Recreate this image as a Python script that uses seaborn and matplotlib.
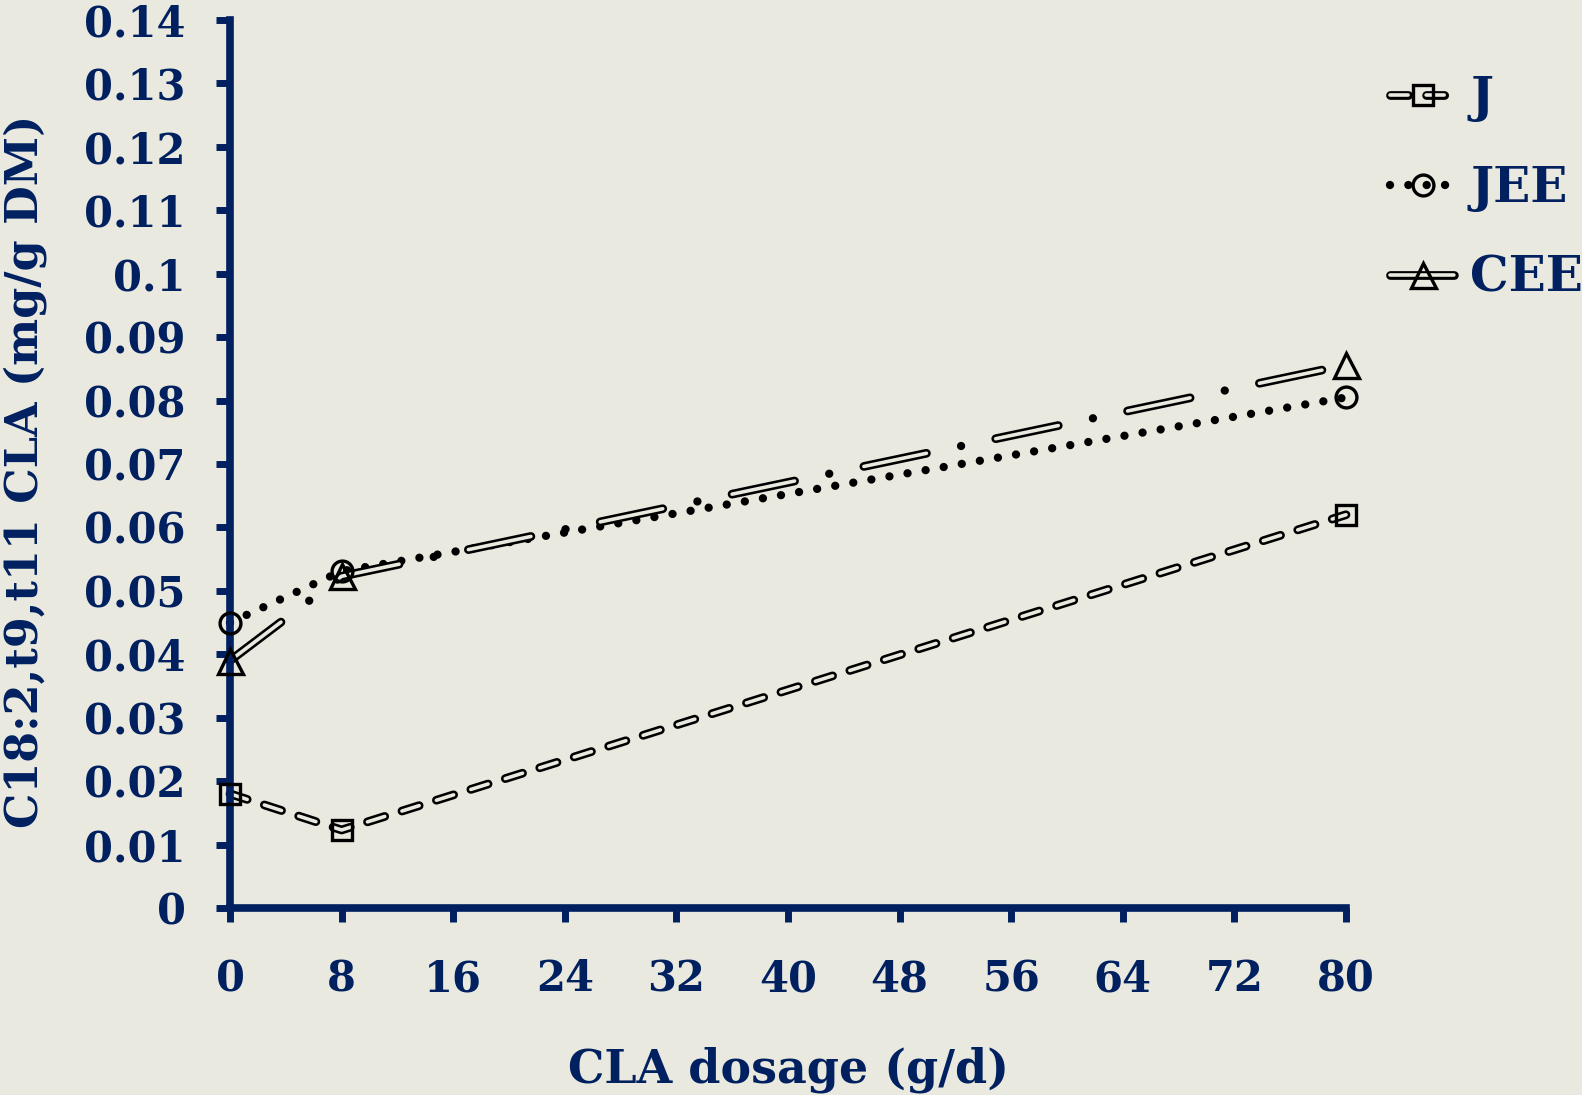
import numpy as np
import pandas as pd
import seaborn as sns
import matplotlib
matplotlib.use("Agg")
import matplotlib.pyplot as plt
import matplotlib.patheffects as pe
from matplotlib.legend_handler import HandlerTuple

# CLA dosage (g/d) and C18:2,t9,t11 CLA content (mg/g DM)
dosage = [0, 8, 80]
j_vals = [0.018, 0.0123, 0.062]
jee_vals = [0.045, 0.0531, 0.0805]
cee_vals = [0.039, 0.0523, 0.0856]
series_names = ["J", "JEE", "CEE"]

x_ticks = [0, 8, 16, 24, 32, 40, 48, 56, 64, 72, 80]
y_ticks = [0, 0.01, 0.02, 0.03, 0.04, 0.05, 0.06, 0.07, 0.08, 0.09, 0.10,
           0.11, 0.12, 0.13, 0.14]
y_tick_labels = ["0", "0.01", "0.02", "0.03", "0.04", "0.05", "0.06", "0.07",
                 "0.08", "0.09", "0.1", "0.11", "0.12", "0.13", "0.14"]

BG = "#E9E9DF"
NAVY = "#002060"
FS = 30

sns.set_theme(style="white")
plt.rcParams["font.family"] = ["DejaVu Serif"]
plt.rcParams["font.weight"] = "bold"
plt.rcParams["lines.scale_dashes"] = False

fig = plt.figure(figsize=(15.82, 10.95), dpi=100, facecolor=BG)
ax = fig.add_axes([230 / 1582, 1 - 908 / 1095, 1116 / 1582, 888 / 1095])
ax.set_facecolor(BG)

df = pd.DataFrame({"dosage": dosage, "J": j_vals, "JEE": jee_vals, "CEE": cee_vals})

hollow = [pe.Stroke(linewidth=6.3, foreground="black"), pe.Normal()]

# J: hollow short dashes
sns.lineplot(data=df, x="dosage", y="J", ax=ax, color=BG, linewidth=2.6,
             linestyle=(0, (13, 13)), dash_capstyle="round", clip_on=False)
line_j = ax.lines[-1]
line_j.set_path_effects(hollow)

# JEE: round black dots
sns.lineplot(data=df, x="dosage", y="JEE", ax=ax, color="black", linewidth=6,
             linestyle=(0, (0.01, 13.2)), dash_capstyle="round", clip_on=False)
line_jee = ax.lines[-1]

# CEE: hollow long dashes with a dot between them
sns.lineplot(data=df, x="dosage", y="CEE", ax=ax, color=BG, linewidth=2.6,
             linestyle=(0, (46, 51)), dash_capstyle="round", clip_on=False)
line_cee = ax.lines[-1]
line_cee.set_path_effects(hollow)
sns.lineplot(data=df, x="dosage", y="CEE", ax=ax, color="black", linewidth=6,
             linestyle=(25.5, (0.01, 96.99)), dash_capstyle="round", clip_on=False)

# markers
mk_j, = ax.plot(dosage, j_vals, linestyle="none", marker="s", markersize=14,
                markerfacecolor="none", markeredgecolor="black",
                markeredgewidth=2.4, clip_on=False, zorder=5)
mk_jee, = ax.plot(dosage, jee_vals, linestyle="none", marker="o", markersize=15,
                  markerfacecolor="none", markeredgecolor="black",
                  markeredgewidth=2.4, clip_on=False, zorder=5)
mk_cee, = ax.plot(dosage, cee_vals, linestyle="none", marker="^", markersize=18,
                  markerfacecolor="none", markeredgecolor="black",
                  markeredgewidth=2.4, clip_on=False, zorder=5)

ax.set_xlim(0, 80)
ax.set_ylim(0, 0.14)
ax.set_xticks(x_ticks)
ax.set_xticklabels([str(v) for v in x_ticks])
ax.set_yticks(y_ticks)
ax.set_yticklabels(y_tick_labels)

for side in ["top", "right"]:
    ax.spines[side].set_visible(False)
for side in ["left", "bottom"]:
    ax.spines[side].set_color(NAVY)
    ax.spines[side].set_linewidth(5.5)

ax.tick_params(axis="both", direction="out", length=10, width=5, color=NAVY,
               labelcolor=NAVY, labelsize=FS)
ax.tick_params(axis="y", pad=22, left=True)
ax.tick_params(axis="x", pad=26, bottom=True)
for lab in ax.get_xticklabels() + ax.get_yticklabels():
    lab.set_fontweight("bold")

ax.set_xlabel("CLA dosage (g/d)", fontsize=33, fontweight="bold", color=NAVY,
              va="center")
ax.xaxis.set_label_coords(0.5, (908 - 1070) / 888)
ax.set_ylabel("C18:2,t9,t11 CLA (mg/g DM)", fontsize=32, fontweight="bold",
              color=NAVY, va="center")
ax.yaxis.set_label_coords((25 - 230) / 1116, (908 - 471) / 888)

leg = fig.legend([(line_j, mk_j), (line_jee, mk_jee), (line_cee, mk_cee)],
                 series_names, handler_map={tuple: HandlerTuple(ndivide=1)},
                 numpoints=1, loc="upper left",
                 bbox_to_anchor=(1390 / 1582, 1 - 75 / 1095),
                 frameon=False, borderpad=0, borderaxespad=0,
                 handlelength=1.35, handletextpad=0.3, labelspacing=0.88,
                 prop={"family": "DejaVu Serif", "weight": "bold", "size": 35})
for t in leg.get_texts():
    t.set_color(NAVY)

fig.savefig("out.png", dpi=100, facecolor=BG)
